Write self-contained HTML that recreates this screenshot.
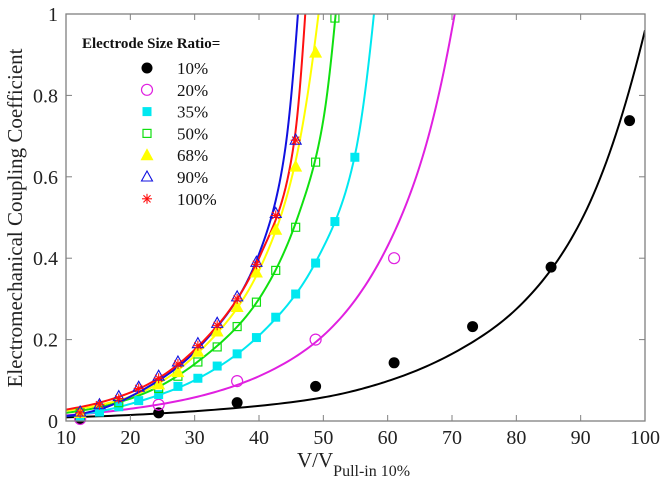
<!DOCTYPE html><html><head><meta charset="utf-8"><style>
body{margin:0;background:#fff}
svg{display:block;font-family:"Liberation Serif",serif}
</style></head><body>
<svg id="s" width="667" height="494" viewBox="0 0 667 494">
<defs><clipPath id="c"><rect x="66" y="14" width="579" height="407"/></clipPath></defs>
<g id="curves" clip-path="url(#c)"></g>
<g id="pts"></g>
<rect x="66" y="14" width="579" height="407" fill="none" stroke="#808080" stroke-width="1.3"/>
<g id="ticks" stroke="#808080" stroke-width="1"></g>
<g id="lbl" font-size="20" fill="#222"></g>
<text x="5" y="218" font-size="21" fill="#222" transform="rotate(-90 22 218)" text-anchor="middle" dx="17">Electromechanical Coupling Coefficient</text>
<text x="297" y="467" font-size="21" fill="#222">V/V<tspan font-size="16" dy="9">Pull-in 10%</tspan></text>
<text x="82" y="48" font-size="15" font-weight="bold" fill="#111">Electrode Size Ratio=</text>
<g id="leg" font-size="17" fill="#111"></g>
</svg>
<script>
const X=v=>66+(v-10)*579/90, Y=v=>421-v*407;
const NS="http://www.w3.org/2000/svg";
function el(t,a,p){const e=document.createElementNS(NS,t);for(const k in a)e.setAttribute(k,a[k]);p.appendChild(e);return e;}
const T=document.getElementById('ticks'),L=document.getElementById('lbl');
for(let v=10;v<=100;v+=10){const x=X(v);el('line',{x1:x,x2:x,y1:421,y2:415},T);el('line',{x1:x,x2:x,y1:14,y2:20},T);
 const t=el('text',{x:x,y:444,'text-anchor':'middle'},L);t.textContent=v;}
for(let i=0;i<=5;i++){const v=i*0.2,y=Y(v);el('line',{x1:66,x2:72,y1:y,y2:y},T);el('line',{x1:645,x2:639,y1:y,y2:y},T);
 const t=el('text',{x:58,y:y+7,'text-anchor':'end'},L);t.textContent=i==0?'0':i==5?'1':v.toFixed(1);}
function smooth(pts){
 const xs=pts.map(p=>p[0]),ys=pts.map(p=>Math.log(p[1])),n=pts.length;
 const d=[];for(let i=0;i<n-1;i++)d.push((ys[i+1]-ys[i])/(xs[i+1]-xs[i]));
 const m=[d[0]];for(let i=1;i<n-1;i++)m.push((d[i-1]+d[i])/2);m.push(d[n-2]);
 let s='';
 for(let i=0;i<n-1;i++){const h=xs[i+1]-xs[i];
  for(let k=0;k<=20;k++){const t=k/20,t2=t*t,t3=t2*t;
   const v=(2*t3-3*t2+1)*ys[i]+(t3-2*t2+t)*h*m[i]+(-2*t3+3*t2)*ys[i+1]+(t3-t2)*h*m[i+1];
   const x=xs[i]+t*h;s+=(s?'L':'M')+X(x).toFixed(2)+','+Y(Math.exp(v)).toFixed(2);}}
 return s;}
const C=document.getElementById('curves');
const curves=[
['#000',[[10,0.009],[30,0.024],[50,0.058],[60,0.098],[70,0.165],[80,0.275],[90,0.49],[100,0.96]]],
['#e020e0',[[10,0.014],[20,0.03],[30,0.058],[40,0.11],[50,0.21],[60,0.43],[66,0.68],[72,1.15]]],
['#00e8f0',[[10,0.012],[20,0.042],[30,0.1],[40,0.21],[48.8,0.39],[55,0.66],[58.5,1.1]]],
['#10e010',[[10,0.02],[20,0.055],[30,0.14],[40,0.3],[46,0.5],[50,0.74],[52.5,1.1]]],
['#ffff00',[[10,0.025],[20,0.06],[30,0.16],[40,0.37],[45.5,0.625],[50,1.1]]],
['#1010e0',[[10,0.012],[20,0.06],[30,0.17],[40,0.41],[44,0.66],[46.5,1.1]]],
['#ff1010',[[10,0.028],[20,0.07],[30,0.175],[40,0.4],[45.5,0.69],[47.6,1.1]]]];
curves.forEach(c=>el('path',{d:smooth(c[1]),fill:'none',stroke:c[0],'stroke-width':2},C));
const P=document.getElementById('pts');
function mk(t,x,y,p){const c={'10':'#000','20':'#e020e0','35':'#00e8f0','50':'#10e010','68':'#ffff00','90':'#1010e0','100':'#ff1010'}[t];
 if(t=='10')el('circle',{cx:x,cy:y,r:5.5,fill:c},p);
 if(t=='20')el('circle',{cx:x,cy:y,r:5.5,fill:'none',stroke:c,'stroke-width':1.2},p);
 if(t=='35')el('rect',{x:x-4.5,y:y-4.5,width:9,height:9,fill:c},p);
 if(t=='50')el('rect',{x:x-4,y:y-4,width:8,height:8,fill:'none',stroke:c,'stroke-width':1.2},p);
 if(t=='68')el('path',{d:`M${x},${y-7}L${x+6.5},${y+5}L${x-6.5},${y+5}Z`,fill:c},p);
 if(t=='90')el('path',{d:`M${x},${y-6}L${x+5.5},${y+4}L${x-5.5},${y+4}Z`,fill:'none',stroke:c,'stroke-width':1.1},p);
 if(t=='100'){for(let a=0;a<4;a++){const r=a*Math.PI/4;el('line',{x1:x-5*Math.cos(r),y1:y-5*Math.sin(r),x2:x+5*Math.cos(r),y2:y+5*Math.sin(r),stroke:c,'stroke-width':1.1},p);}}}
const data={
'10':[[12.2,0.005],[24.4,0.02],[36.6,0.045],[48.8,0.085],[61,0.143],[73.2,0.232],[85.4,0.378],[97.6,0.738]],
'20':[[12.2,0.005],[24.4,0.04],[36.6,0.098],[48.8,0.2],[61,0.4]],
'35':[[12.2,0.012],[15.2,0.022],[18.2,0.035],[21.3,0.05],[24.4,0.065],[27.4,0.085],[30.5,0.105],[33.5,0.135],[36.6,0.165],[39.6,0.205],[42.6,0.255],[45.7,0.312],[48.8,0.388],[51.8,0.49],[54.9,0.648]],
'50':[[12.2,0.02],[18.2,0.045],[24.4,0.08],[27.4,0.11],[30.5,0.145],[33.5,0.182],[36.6,0.232],[39.6,0.292],[42.6,0.37],[45.7,0.476],[48.8,0.636],[51.8,0.99]],
'68':[[12.2,0.02],[24.4,0.09],[27.4,0.12],[30.5,0.17],[33.5,0.22],[36.6,0.28],[39.6,0.365],[42.6,0.47],[45.7,0.625],[48.8,0.905]],
'90':[[12.2,0.022],[15.2,0.04],[18.2,0.06],[21.3,0.083],[24.4,0.11],[27.4,0.145],[30.5,0.19],[33.5,0.24],[36.6,0.305],[39.6,0.39],[42.6,0.51],[45.7,0.69]],
'100':[[12.2,0.02],[15.2,0.04],[18.2,0.055],[21.3,0.08],[24.4,0.105],[27.4,0.14],[30.5,0.185],[33.5,0.235],[36.6,0.3],[39.6,0.385],[42.6,0.505],[45.7,0.69]]};
for(const k in data)data[k].forEach(d=>mk(k,X(d[0]),Y(d[1]),P));
const G=document.getElementById('leg');const ks=['10','20','35','50','68','90','100'];
ks.forEach((k,i)=>{const y=68+i*21.8;mk(k,147,y,G);const t=el('text',{x:177,y:y+6},G);t.textContent=k+'%';});
</script>
</body></html>
